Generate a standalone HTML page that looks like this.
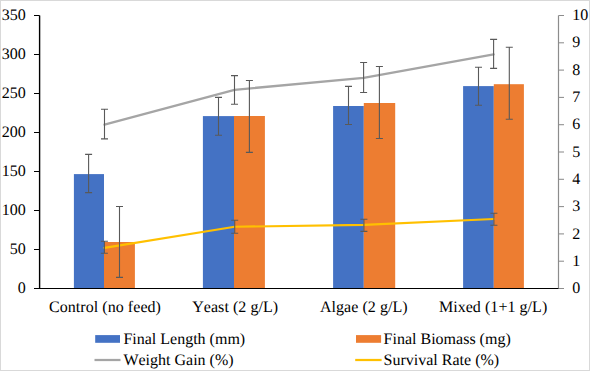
<!DOCTYPE html>
<html><head><meta charset="utf-8"><style>
html,body{margin:0;padding:0;background:#fff;overflow:hidden;}
svg{display:block;}
text{font-family:"Liberation Serif", serif;font-kerning:none;text-rendering:geometricPrecision;}
</style></head><body>
<svg width="590" height="371" viewBox="0 0 590 371">
<rect x="0.5" y="0.5" width="589" height="370" fill="#fff" stroke="#D9D9D9" stroke-width="1"/>
<rect x="73.90" y="174.10" width="30.10" height="114.40" fill="#4472C4"/>
<rect x="104.00" y="242.00" width="30.90" height="46.50" fill="#ED7D31"/>
<rect x="202.90" y="116.10" width="31.10" height="172.40" fill="#4472C4"/>
<rect x="234.00" y="116.00" width="30.90" height="172.50" fill="#ED7D31"/>
<rect x="333.10" y="106.00" width="30.70" height="182.50" fill="#4472C4"/>
<rect x="363.80" y="103.00" width="31.40" height="185.50" fill="#ED7D31"/>
<rect x="463.10" y="86.10" width="30.70" height="202.40" fill="#4472C4"/>
<rect x="493.80" y="84.20" width="30.10" height="204.30" fill="#ED7D31"/>
<path d="M104.50,124.60 L234.50,89.80 L363.60,77.90 L493.60,54.30" fill="none" stroke="#A5A5A5" stroke-width="2.25" stroke-linecap="round" stroke-linejoin="round"/>
<path d="M104.40,247.90 L234.70,226.70 L363.90,224.90 L493.90,219.00" fill="none" stroke="#FFC000" stroke-width="2.1" stroke-linecap="round" stroke-linejoin="round"/>
<path d="M88.60,154.40 V192.60 M85.10,154.40 H92.10 M85.10,192.60 H92.10" stroke="#595959" stroke-width="1.1" fill="none"/>
<path d="M119.50,206.50 V277.40 M116.00,206.50 H123.00 M116.00,277.40 H123.00" stroke="#595959" stroke-width="1.1" fill="none"/>
<path d="M104.50,109.30 V138.90 M101.00,109.30 H108.00 M101.00,138.90 H108.00" stroke="#595959" stroke-width="1.1" fill="none"/>
<path d="M104.40,241.30 V253.30 M100.90,241.30 H107.90 M100.90,253.30 H107.90" stroke="#595959" stroke-width="1.1" fill="none"/>
<path d="M218.50,97.40 V135.20 M215.00,97.40 H222.00 M215.00,135.20 H222.00" stroke="#595959" stroke-width="1.1" fill="none"/>
<path d="M249.40,80.50 V152.40 M245.90,80.50 H252.90 M245.90,152.40 H252.90" stroke="#595959" stroke-width="1.1" fill="none"/>
<path d="M234.50,75.60 V104.20 M231.00,75.60 H238.00 M231.00,104.20 H238.00" stroke="#595959" stroke-width="1.1" fill="none"/>
<path d="M234.70,220.30 V233.20 M231.20,220.30 H238.20 M231.20,233.20 H238.20" stroke="#595959" stroke-width="1.1" fill="none"/>
<path d="M348.50,86.40 V124.50 M345.00,86.40 H352.00 M345.00,124.50 H352.00" stroke="#595959" stroke-width="1.1" fill="none"/>
<path d="M379.40,66.50 V138.50 M375.90,66.50 H382.90 M375.90,138.50 H382.90" stroke="#595959" stroke-width="1.1" fill="none"/>
<path d="M363.60,62.50 V92.50 M360.10,62.50 H367.10 M360.10,92.50 H367.10" stroke="#595959" stroke-width="1.1" fill="none"/>
<path d="M363.90,219.30 V231.40 M360.40,219.30 H367.40 M360.40,231.40 H367.40" stroke="#595959" stroke-width="1.1" fill="none"/>
<path d="M478.50,67.30 V105.30 M475.00,67.30 H482.00 M475.00,105.30 H482.00" stroke="#595959" stroke-width="1.1" fill="none"/>
<path d="M509.30,47.30 V119.30 M505.80,47.30 H512.80 M505.80,119.30 H512.80" stroke="#595959" stroke-width="1.1" fill="none"/>
<path d="M493.60,39.40 V68.40 M490.10,39.40 H497.10 M490.10,68.40 H497.10" stroke="#595959" stroke-width="1.1" fill="none"/>
<path d="M493.90,213.20 V225.30 M490.40,213.20 H497.40 M490.40,225.30 H497.40" stroke="#595959" stroke-width="1.1" fill="none"/>
<path d="M39.6,15.5 V288.5" stroke="#000" stroke-width="1.4" fill="none"/>
<path d="M558.5,15.5 V288.5" stroke="#8C8C8C" stroke-width="1.2" fill="none"/>
<path d="M34,288.50 H39.6" stroke="#000" stroke-width="1.05"/>
<path d="M34,249.50 H39.6" stroke="#000" stroke-width="1.05"/>
<path d="M34,210.50 H39.6" stroke="#000" stroke-width="1.05"/>
<path d="M34,171.50 H39.6" stroke="#000" stroke-width="1.05"/>
<path d="M34,132.50 H39.6" stroke="#000" stroke-width="1.05"/>
<path d="M34,93.50 H39.6" stroke="#000" stroke-width="1.05"/>
<path d="M34,54.50 H39.6" stroke="#000" stroke-width="1.05"/>
<path d="M34,15.50 H39.6" stroke="#000" stroke-width="1.05"/>
<path d="M558.5,288.50 H564" stroke="#8C8C8C" stroke-width="1.05"/>
<path d="M558.5,261.20 H564" stroke="#8C8C8C" stroke-width="1.05"/>
<path d="M558.5,233.90 H564" stroke="#8C8C8C" stroke-width="1.05"/>
<path d="M558.5,206.60 H564" stroke="#8C8C8C" stroke-width="1.05"/>
<path d="M558.5,179.30 H564" stroke="#8C8C8C" stroke-width="1.05"/>
<path d="M558.5,152.00 H564" stroke="#8C8C8C" stroke-width="1.05"/>
<path d="M558.5,124.70 H564" stroke="#8C8C8C" stroke-width="1.05"/>
<path d="M558.5,97.40 H564" stroke="#8C8C8C" stroke-width="1.05"/>
<path d="M558.5,70.10 H564" stroke="#8C8C8C" stroke-width="1.05"/>
<path d="M558.5,42.80 H564" stroke="#8C8C8C" stroke-width="1.05"/>
<path d="M558.5,15.50 H564" stroke="#8C8C8C" stroke-width="1.05"/>
<path d="M34,288.5 H558.5" stroke="#000" stroke-width="1.2" fill="none"/>
<text x="25.8" y="293.10" text-anchor="end" font-family="Liberation Serif, serif" font-size="16" fill="#000">0</text>
<text x="25.8" y="254.10" text-anchor="end" font-family="Liberation Serif, serif" font-size="16" fill="#000">50</text>
<text x="25.8" y="215.10" text-anchor="end" font-family="Liberation Serif, serif" font-size="16" fill="#000">100</text>
<text x="25.8" y="176.10" text-anchor="end" font-family="Liberation Serif, serif" font-size="16" fill="#000">150</text>
<text x="25.8" y="137.10" text-anchor="end" font-family="Liberation Serif, serif" font-size="16" fill="#000">200</text>
<text x="25.8" y="98.10" text-anchor="end" font-family="Liberation Serif, serif" font-size="16" fill="#000">250</text>
<text x="25.8" y="59.10" text-anchor="end" font-family="Liberation Serif, serif" font-size="16" fill="#000">300</text>
<text x="25.8" y="20.10" text-anchor="end" font-family="Liberation Serif, serif" font-size="16" fill="#000">350</text>
<text x="572.3" y="293.10" font-family="Liberation Serif, serif" font-size="16" fill="#000">0</text>
<text x="572.3" y="265.80" font-family="Liberation Serif, serif" font-size="16" fill="#000">1</text>
<text x="572.3" y="238.50" font-family="Liberation Serif, serif" font-size="16" fill="#000">2</text>
<text x="572.3" y="211.20" font-family="Liberation Serif, serif" font-size="16" fill="#000">3</text>
<text x="572.3" y="183.90" font-family="Liberation Serif, serif" font-size="16" fill="#000">4</text>
<text x="572.3" y="156.60" font-family="Liberation Serif, serif" font-size="16" fill="#000">5</text>
<text x="572.3" y="129.30" font-family="Liberation Serif, serif" font-size="16" fill="#000">6</text>
<text x="572.3" y="102.00" font-family="Liberation Serif, serif" font-size="16" fill="#000">7</text>
<text x="572.3" y="74.70" font-family="Liberation Serif, serif" font-size="16" fill="#000">8</text>
<text x="572.3" y="47.40" font-family="Liberation Serif, serif" font-size="16" fill="#000">9</text>
<text x="572.3" y="20.10" font-family="Liberation Serif, serif" font-size="16" fill="#000">10</text>
<text x="105.00" y="312.2" text-anchor="middle" letter-spacing="0.05" font-family="Liberation Serif, serif" font-size="16" fill="#000">Control (no feed)</text>
<text x="235.20" y="312.2" text-anchor="middle" letter-spacing="0.05" font-family="Liberation Serif, serif" font-size="16" fill="#000">Yeast (2 g/L)</text>
<text x="363.80" y="312.2" text-anchor="middle" letter-spacing="0.05" font-family="Liberation Serif, serif" font-size="16" fill="#000">Algae (2 g/L)</text>
<text x="493.10" y="312.2" text-anchor="middle" letter-spacing="0.05" font-family="Liberation Serif, serif" font-size="16" fill="#000">Mixed (1+1 g/L)</text>
<rect x="95.2" y="335.1" width="24.8" height="7.7" fill="#4472C4"/>
<text x="123.4" y="343.6" font-family="Liberation Serif, serif" font-size="16" fill="#000">Final Length (mm)</text>
<rect x="356" y="335.1" width="25.1" height="7.7" fill="#ED7D31"/>
<text x="383.6" y="343.6" font-family="Liberation Serif, serif" font-size="16" fill="#000">Final Biomass (mg)</text>
<path d="M94.5,360 H120.5" stroke="#A5A5A5" stroke-width="2.25"/>
<text x="123.4" y="364.8" font-family="Liberation Serif, serif" font-size="16" fill="#000">Weight Gain (%)</text>
<path d="M355.2,360 H381.6" stroke="#FFC000" stroke-width="2.25"/>
<text x="383.6" y="364.8" font-family="Liberation Serif, serif" font-size="16" fill="#000">Survival Rate (%)</text>
</svg>
</body></html>
